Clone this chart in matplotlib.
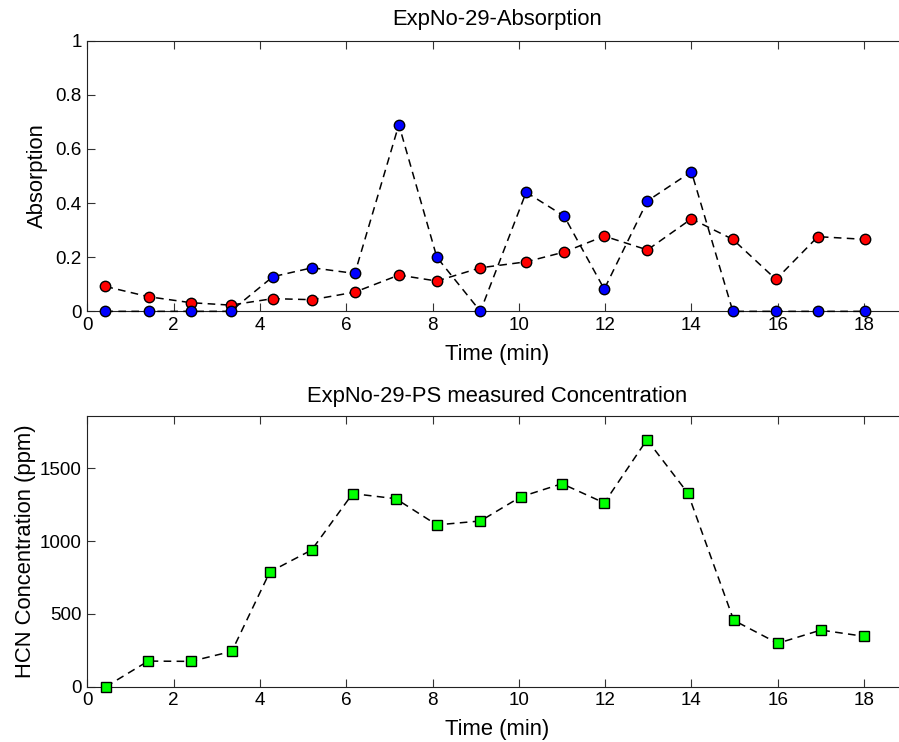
import matplotlib
matplotlib.use("Agg")
import matplotlib.pyplot as plt

plt.rcParams['font.family'] = ['Liberation Sans', 'DejaVu Sans']

# Absorption panel
t_abs = [0.42, 1.42, 2.40, 3.32, 4.30, 5.21, 6.20, 7.22, 8.10, 9.11,
         10.17, 11.05, 11.98, 12.98, 14.00, 14.96, 15.96, 16.93, 18.02]
abs_red = [0.092, 0.054, 0.032, 0.023, 0.047, 0.043, 0.071, 0.134, 0.112, 0.161,
           0.183, 0.219, 0.278, 0.227, 0.342, 0.266, 0.118, 0.276, 0.266]
abs_blue = [0.0, 0.0, 0.0, 0.0, 0.128, 0.161, 0.140, 0.690, 0.200, 0.0,
            0.440, 0.352, 0.082, 0.408, 0.516, 0.0, 0.0, 0.0, 0.0]

# Concentration panel
t_conc = [0.43, 1.41, 2.40, 3.35, 4.23, 5.20, 6.15, 7.15, 8.10, 9.11,
          10.04, 11.00, 11.98, 12.97, 13.92, 14.98, 16.00, 17.00, 18.00]
hcn_ppm = [0, 176, 174, 243, 788, 939, 1326, 1291, 1111, 1138,
           1303, 1394, 1262, 1696, 1328, 456, 298, 389, 346]

xticks = [0, 2, 4, 6, 8, 10, 12, 14, 16, 18]
abs_yticks = [0, 0.2, 0.4, 0.6, 0.8, 1]
abs_yticklabels = ['0', '0.2', '0.4', '0.6', '0.8', '1']
conc_yticks = [0, 500, 1000, 1500]

fig = plt.figure(figsize=(8.99, 7.42), dpi=100)
ax1 = fig.add_axes([0.0971, 0.5804, 0.912, 0.3647])
ax2 = fig.add_axes([0.0971, 0.0745, 0.912, 0.3649])

dash = (0, (5, 3.5))
fs = 15.8
tfs = 13.6

ax1.plot(t_abs, abs_red, linestyle=dash, color='black', lw=1.1, marker='o',
         markersize=7.5, markerfacecolor='#ff0000', markeredgecolor='black',
         markeredgewidth=1, clip_on=False, zorder=3)
ax1.plot(t_abs, abs_blue, linestyle=dash, color='black', lw=1.1, marker='o',
         markersize=7.5, markerfacecolor='#0000ff', markeredgecolor='black',
         markeredgewidth=1, clip_on=False, zorder=4)
ax1.set_xlim(0, 19)
ax1.set_ylim(0, 1)
ax1.set_yticks(abs_yticks)
ax1.set_yticklabels(abs_yticklabels)
ax1.set_title('ExpNo-29-Absorption', fontsize=fs, pad=11)
ax1.set_ylabel('Absorption', fontsize=fs)
ax1.yaxis.set_label_coords(-0.048, 0.5)

ax2.plot(t_conc, hcn_ppm, linestyle=dash, color='black', lw=1.1, marker='s',
         markersize=7, markerfacecolor='#00ff00', markeredgecolor='black',
         markeredgewidth=1, clip_on=False, zorder=3)
ax2.set_xlim(0, 19)
ax2.set_ylim(0, 1859)
ax2.set_yticks(conc_yticks)
ax2.set_title('ExpNo-29-PS measured Concentration', fontsize=fs, pad=10)
ax2.set_ylabel('HCN Concentration (ppm)', fontsize=fs)
ax2.yaxis.set_label_coords(-0.063, 0.5)

for ax in (ax1, ax2):
    ax.set_xticks(xticks)
    ax.set_xlabel('Time (min)', fontsize=fs, labelpad=7)
    ax.tick_params(direction='in', top=True, right=False, length=6, width=0.8,
                   labelsize=tfs, color='#333333', pad=4)
    ax.spines['right'].set_visible(False)
    for s in ax.spines.values():
        s.set_linewidth(0.8)
        s.set_color('#222222')

fig.savefig('out.png', dpi=100)
